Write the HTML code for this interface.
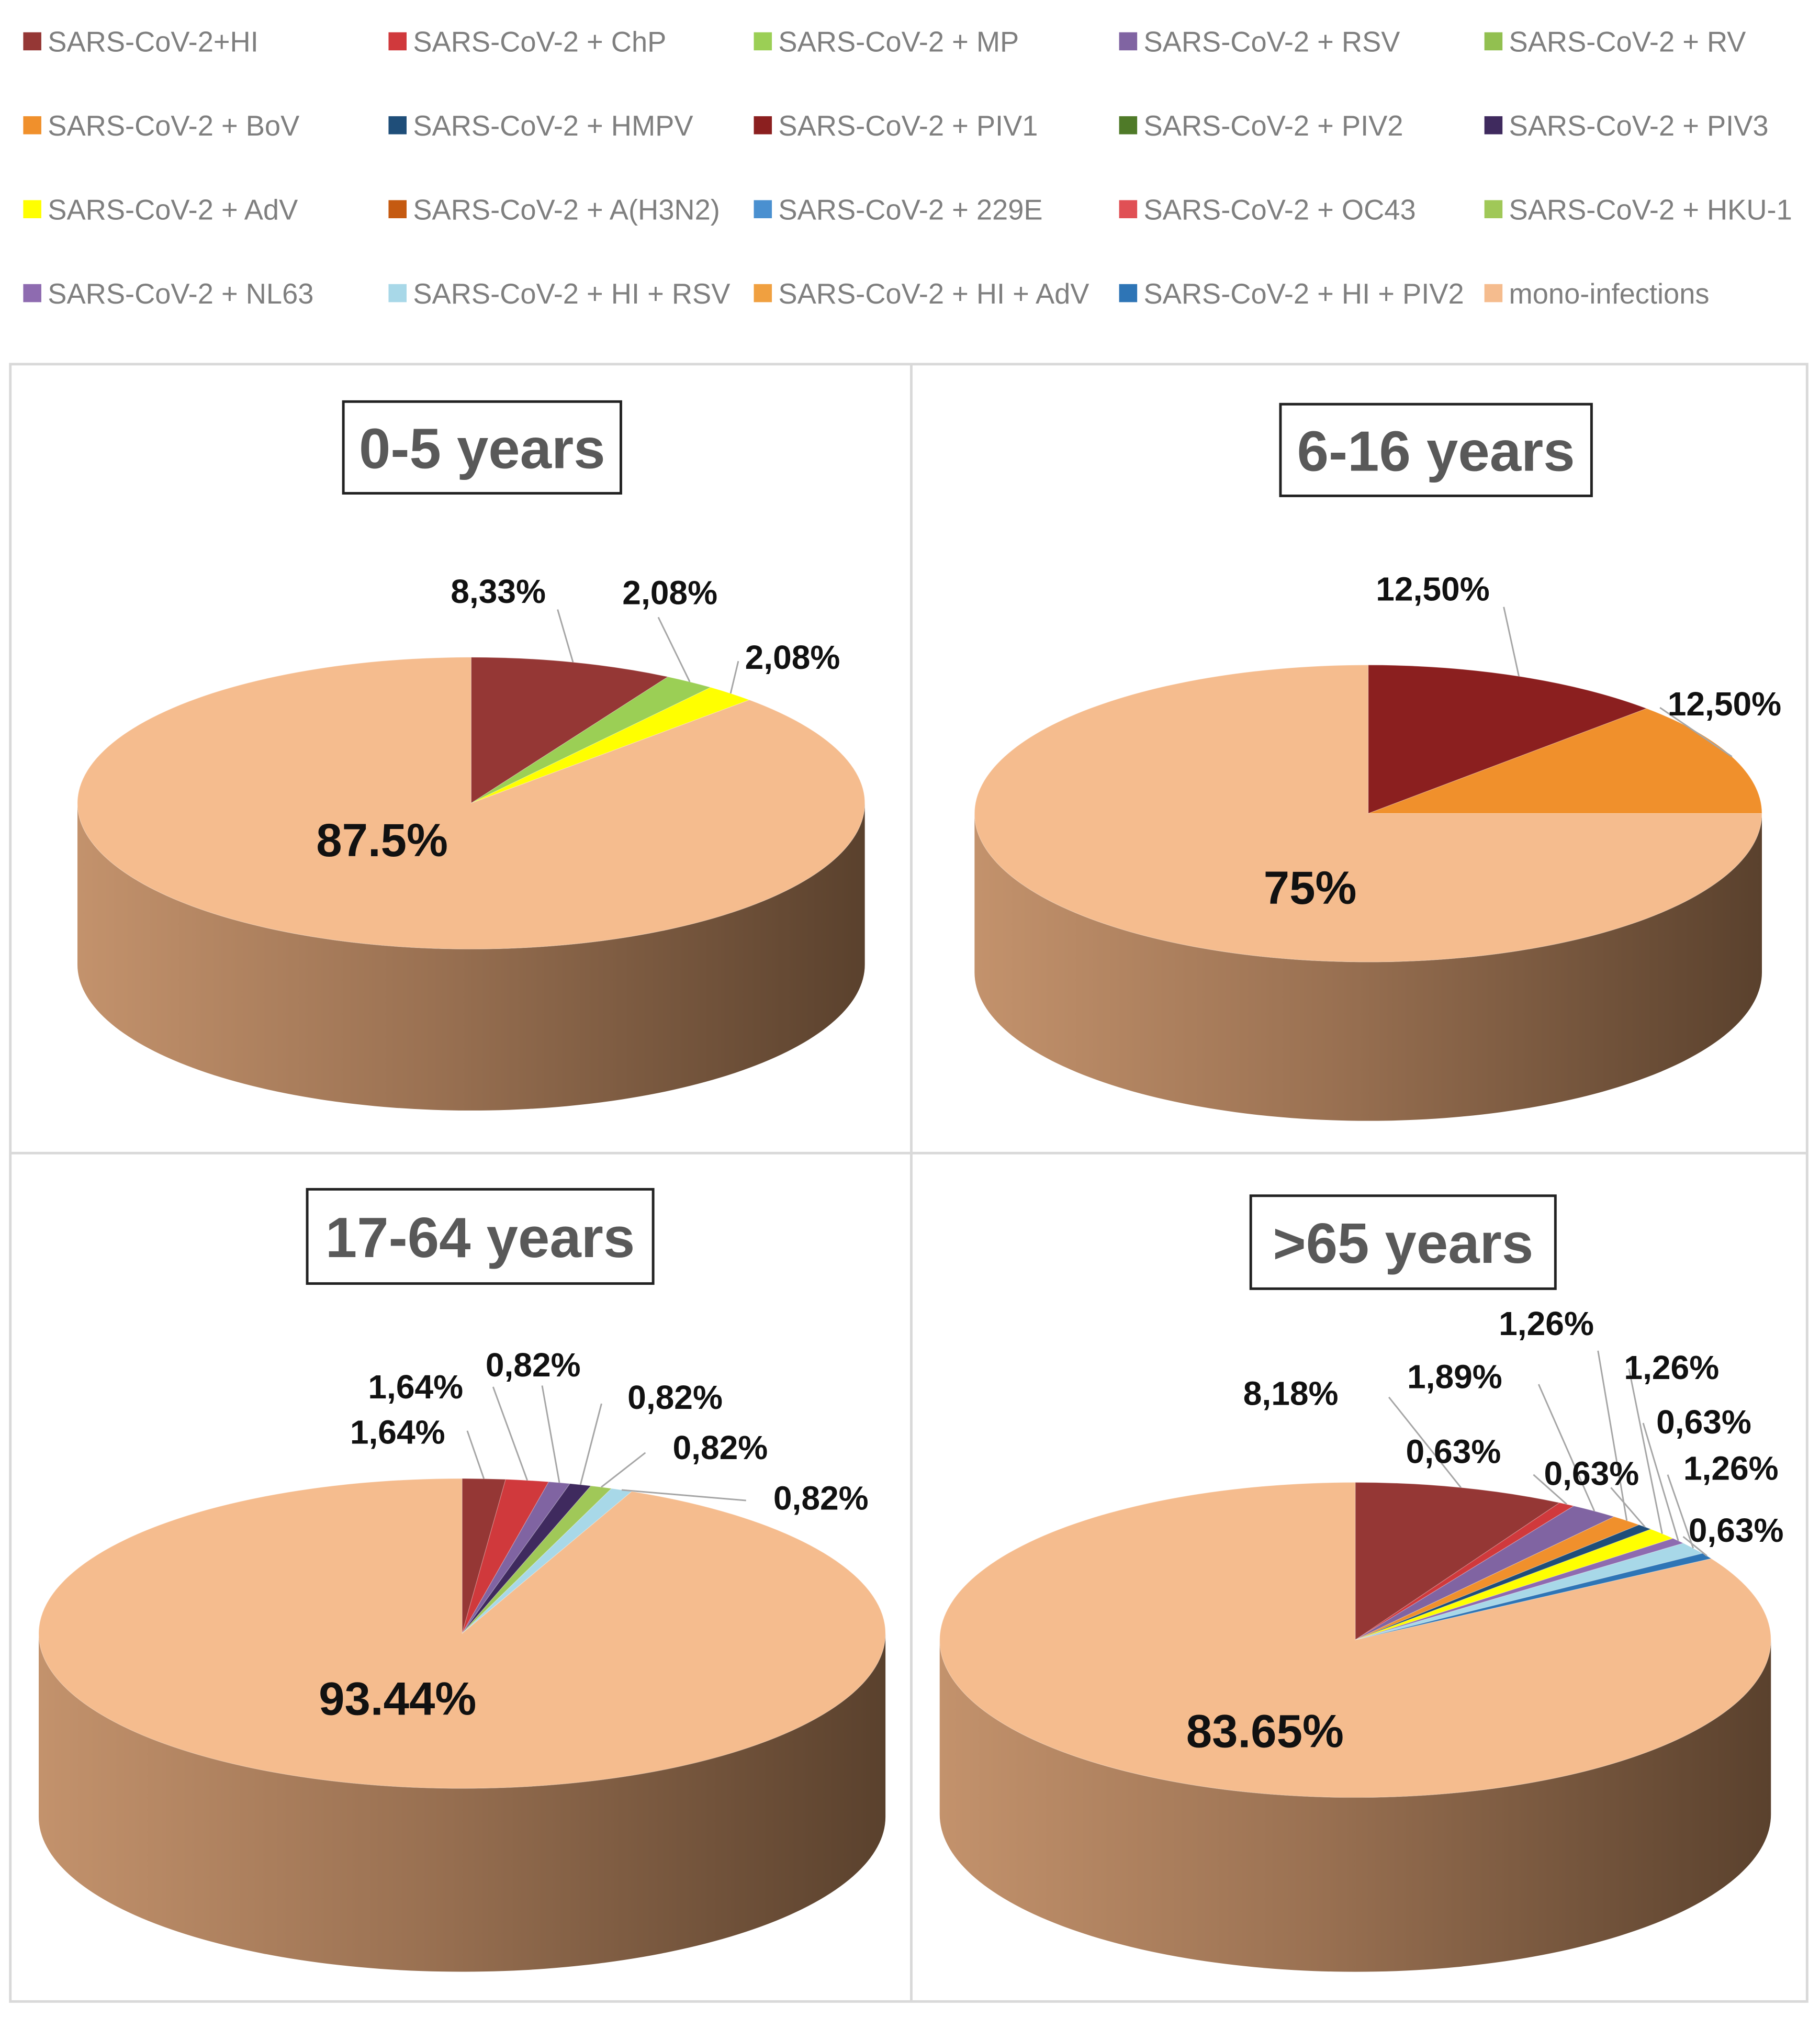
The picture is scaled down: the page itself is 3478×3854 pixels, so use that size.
<!DOCTYPE html>
<html><head><meta charset="utf-8"><style>
html,body{margin:0;padding:0;background:#fff}
svg{display:block}
</style></head><body>
<svg id="chart" width="3478" height="3854" viewBox="0 0 1410 1562" preserveAspectRatio="none" xmlns="http://www.w3.org/2000/svg" font-family="'Liberation Sans', sans-serif">
<defs>
<linearGradient id="side" x1="0" x2="1" y1="0" y2="0">
<stop offset="0" stop-color="#c3926c"/><stop offset="0.45" stop-color="#9a7152"/><stop offset="1" stop-color="#5a412d"/>
</linearGradient>
</defs>
<rect x="8" y="282" width="1392" height="1268" fill="none" stroke="#d9d9d9" stroke-width="2"/>
<line x1="706" y1="282" x2="706" y2="1550" stroke="#d9d9d9" stroke-width="2"/>
<line x1="8" y1="893" x2="1400" y2="893" stroke="#d9d9d9" stroke-width="2"/>
<g id="legend"></g>
<g id="pies"></g>
</svg>
<script>
const NS='http://www.w3.org/2000/svg';
// ---- data ----
const legendLabels=['SARS-CoV-2+HI','SARS-CoV-2 + ChP','SARS-CoV-2 + MP','SARS-CoV-2 + RSV','SARS-CoV-2 + RV','SARS-CoV-2 + BoV','SARS-CoV-2 + HMPV','SARS-CoV-2 + PIV1','SARS-CoV-2 + PIV2','SARS-CoV-2 + PIV3','SARS-CoV-2 + AdV','SARS-CoV-2 + A(H3N2)','SARS-CoV-2 + 229E','SARS-CoV-2 + OC43','SARS-CoV-2 + HKU-1','SARS-CoV-2 + NL63','SARS-CoV-2 + HI + RSV','SARS-CoV-2 + HI + AdV','SARS-CoV-2 + HI + PIV2','mono-infections'];
const legendColors=['#953735','#d0393c','#9bcf55','#8064a2','#92c050','#f0902c','#1f4e79','#8b1f1f','#4f7a28','#3f2a5e','#ffff00','#c55a11','#4a90d0','#e05055','#a0c858','#8e6bb0','#a8d8e8','#f0a040','#2e75b6','#f5bc8e'];
const titles=['0-5 years','6-16 years','17-64 years','>65 years'];
const cats1=['SARS-CoV-2+HI','SARS-CoV-2 + MP','SARS-CoV-2 + AdV','mono-infections'];
const vals1=[8.33,2.08,2.08,87.5];
const cats2=['SARS-CoV-2 + PIV1','SARS-CoV-2 + BoV','mono-infections'];
const vals2=[12.5,12.5,75];
const cats3=['SARS-CoV-2+HI','SARS-CoV-2 + ChP','SARS-CoV-2 + RSV','SARS-CoV-2 + PIV3','SARS-CoV-2 + HKU-1','SARS-CoV-2 + HI + RSV','mono-infections'];
const vals3=[1.64,1.64,0.82,0.82,0.82,0.82,93.44];
const cats4=['SARS-CoV-2+HI','SARS-CoV-2 + ChP','SARS-CoV-2 + RSV','SARS-CoV-2 + BoV','SARS-CoV-2 + HMPV','SARS-CoV-2 + AdV','SARS-CoV-2 + NL63','SARS-CoV-2 + HI + RSV','SARS-CoV-2 + HI + PIV2','mono-infections'];
const vals4=[8.18,0.63,1.89,1.26,0.63,1.26,0.63,1.26,0.63,83.65];
const bigLabels=['87.5%','75%','93.44%','83.65%'];
// ---- layout (not data) ----
const pieGeom=[
 {cx:365,cy:622,rx:305,ry:113,d:125,title:[266,311,215,71],big:[296,663]},
 {cx:1060,cy:630,rx:305,ry:115,d:123,title:[992,313,241,71],big:[1015,700]},
 {cx:358,cy:1265,rx:328,ry:120,d:142,title:[238,921,268,73],big:[308,1328]},
 {cx:1050,cy:1270,rx:322,ry:122,d:135,title:[969,926,236,72],big:[980,1353]}];
// label text pos [x,y] and leader start [ax,ay] per small slice
const labelPos=[
 [[386,467,432,472],[519,468,510,478],[614,518,572,512]],
 [[1110,465,1165,470],[1336,554,1286,548]],
 [[308,1118,362,1108],[322,1083,382,1074],[413,1066,420,1073],[523,1091,466,1087],[558,1130,500,1125],[636,1169,578,1162]],
 [[1000,1088,1076,1082],[1126,1133,1188,1142],[1127,1075,1192,1072],[1198,1034,1238,1046],[1233,1150,1248,1152],[1295,1068,1262,1060],[1320,1110,1273,1102],[1341,1146,1292,1142],[1345,1194,1304,1190]]];
const allCats=[cats1,cats2,cats3,cats4], allVals=[vals1,vals2,vals3,vals4];
function el(t,a,p){const e=document.createElementNS(NS,t);for(const k in a)e.setAttribute(k,a[k]);(p||document.getElementById('chart')).appendChild(e);return e;}
function colorOf(c){return legendColors[legendLabels.indexOf(c)];}
// legend
const lg=document.getElementById('legend');
legendLabels.forEach((l,i)=>{
 const x=18+283*(i%5), y=32+65*Math.floor(i/5);
 const r=el('rect',{x:x,y:y-7,width:14,height:14,fill:legendColors[i]},lg);
 
 
 const t=el('text',{x:x+19,y:y+8,'font-size':22,fill:'#7f7f7f'},lg);
 t.textContent=l;
 
 
});
const pg=document.getElementById('pies');
function pt(g,frac){const a=frac*2*Math.PI;return [g.cx+g.rx*Math.sin(a),g.cy-g.ry*Math.cos(a)];}
allVals.forEach((vals,pi)=>{
 const g=pieGeom[pi], cats=allCats[pi];
 const grp=el('g',{},pg);
 
 
 // title box
 const tb=g.title;
 const tr=el('rect',{x:tb[0],y:tb[1],width:tb[2],height:tb[3],fill:'#fff',stroke:'#222','stroke-width':2},grp);
 
 
 const tt=el('text',{x:tb[0]+tb[2]/2,y:tb[1]+tb[3]/2+16,'font-size':44,'font-weight':'bold',fill:'#595959','text-anchor':'middle'},grp);
 tt.textContent=titles[pi];
 
 
 // side
 const side=el('path',{d:`M${g.cx-g.rx},${g.cy} A${g.rx},${g.ry} 0 0 0 ${g.cx+g.rx},${g.cy} L${g.cx+g.rx},${g.cy+g.d} A${g.rx},${g.ry} 0 0 1 ${g.cx-g.rx},${g.cy+g.d} Z`,fill:'url(#side)'},grp);
 
 
 const total=vals.reduce((a,b)=>a+b,0);
 let acc=0;
 vals.forEach((v,i)=>{
  const f0=acc/total, f1=(acc+v)/total; acc+=v;
  const p0=pt(g,f0), p1=pt(g,f1);
  const large=(f1-f0)>0.5?1:0;
  const s=el('path',{d:`M${g.cx},${g.cy} L${p0[0]},${p0[1]} A${g.rx},${g.ry} 0 ${large} 1 ${p1[0]},${p1[1]} Z`,fill:colorOf(cats[i]),stroke:'rgba(255,255,255,0.25)','stroke-width':0.5},grp);
  
  
  if(i<vals.length-1&&labelPos[pi][i]){
   const lp=labelPos[pi][i], m=pt(g,(f0+f1)/2);
   const ln=el('polyline',{points:`${lp[2]},${lp[3]} ${m[0]},${m[1]}`,fill:'none',stroke:'#a6a6a6','stroke-width':1.2},grp);
   
   
   const lt=el('text',{x:lp[0],y:lp[1],'font-size':26,'font-weight':'bold',fill:'#111','text-anchor':'middle'},grp);
   lt.textContent=v.toFixed(2).replace('.',',')+'%';
   
   
  }
 });
 const bl=el('text',{x:g.big[0],y:g.big[1],'font-size':36,'font-weight':'bold',fill:'#111','text-anchor':'middle'},grp);
 bl.textContent=bigLabels[pi];
 
 
});
</script>
</body></html>
